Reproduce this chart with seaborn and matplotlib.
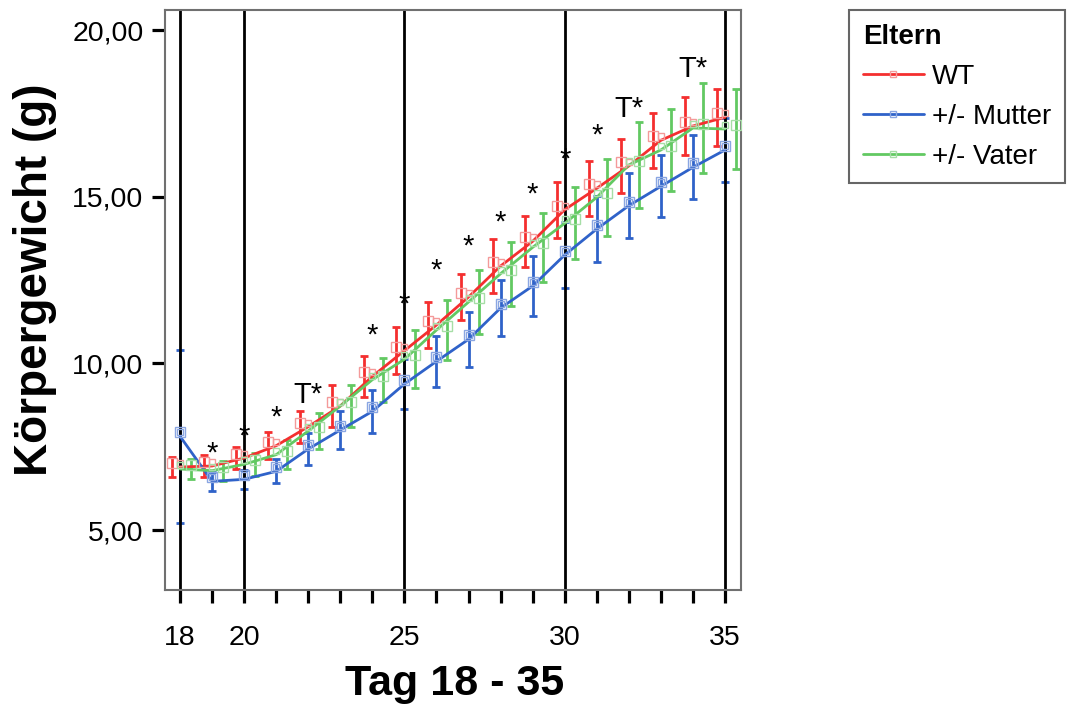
import numpy as np
import pandas as pd
import matplotlib
matplotlib.use("Agg")
import matplotlib.pyplot as plt
import matplotlib.transforms as mtransforms
from matplotlib.lines import Line2D
from matplotlib.ticker import FixedLocator, FuncFormatter
import seaborn as sns

# ---------------- data ----------------
days = list(range(18, 36))
groups = ["WT", "+/- Mutter", "+/- Vater"]

wt_mean = [6.89, 6.92, 7.16, 7.53, 8.10, 8.72, 9.61, 10.38, 11.15, 11.99,
           12.92, 13.66, 14.61, 15.25, 15.92, 16.69, 17.12, 17.38]
wt_err = [0.29, 0.33, 0.34, 0.40, 0.48, 0.62, 0.61, 0.70, 0.68, 0.69,
          0.80, 0.77, 0.84, 0.82, 0.82, 0.83, 0.88, 0.85]

mutter_mean = [7.81, 6.46, 6.52, 6.76, 7.43, 8.00, 8.56, 9.38, 10.06, 10.72,
               11.66, 12.32, 13.25, 14.03, 14.73, 15.31, 15.88, 16.40]
mutter_err = [2.59, 0.29, 0.29, 0.36, 0.48, 0.57, 0.64, 0.75, 0.76, 0.82,
              0.84, 0.90, 0.98, 0.98, 0.97, 0.93, 0.96, 0.95]

vater_mean = [6.83, 6.78, 6.97, 7.26, 7.97, 8.72, 9.51, 10.12, 11.00, 11.84,
              12.69, 13.48, 14.20, 14.98, 15.95, 16.40, 17.06, 17.03]
vater_err = [0.29, 0.30, 0.35, 0.44, 0.55, 0.62, 0.66, 0.87, 0.90, 0.96,
             0.96, 1.03, 1.08, 1.15, 1.28, 1.23, 1.36, 1.20]

sig_days = [19, 20, 21, 22, 24, 25, 26, 27, 28, 29, 30, 31, 32, 34]
sig_labels = ["*", "*", "*", "T*", "*", "*", "*", "*", "*", "*", "*", "*", "T*", "T*"]
sig_y = [7.05, 7.55, 8.13, 8.81, 10.60, 11.51, 12.53, 13.26, 13.98, 14.83,
         15.86, 16.58, 17.39, 18.59]

x_major_ticks = [18, 20, 25, 30, 35]
y_ticks = [5, 10, 15, 20]

# ---------------- styles ----------------
line_colors = {"WT": "#f42f2f", "+/- Mutter": "#2f62c9", "+/- Vater": "#62c962"}
marker_colors = {"WT": "#f49a9a", "+/- Mutter": "#8aa6e2", "+/- Vater": "#a6dea6"}
x_offset = {"WT": -0.25, "+/- Mutter": 0.0, "+/- Vater": 0.33}

means = {"WT": wt_mean, "+/- Mutter": mutter_mean, "+/- Vater": vater_mean}
errs = {"WT": wt_err, "+/- Mutter": mutter_err, "+/- Vater": vater_err}

df = pd.concat([pd.DataFrame({"Tag": days, "Gewicht": means[g], "Eltern": g}) for g in groups],
               ignore_index=True)

sns.set_theme(style="white")
plt.rcParams["font.family"] = ["Liberation Sans", "DejaVu Sans"]
for k in ["text.color", "axes.labelcolor", "xtick.color", "ytick.color"]:
    plt.rcParams[k] = "black"

fig = plt.figure(figsize=(10.71, 7.05), dpi=100)
fig.patch.set_facecolor("white")
ax = fig.add_axes([165 / 1071, 1 - 590 / 705, 576 / 1071, 580 / 705])

# lines through the means
sns.lineplot(data=df, x="Tag", y="Gewicht", hue="Eltern", hue_order=groups,
             palette=line_colors, lw=2, legend=False, ax=ax, zorder=3,
             estimator=None, errorbar=None)

marker_shift = ax.transData + mtransforms.ScaledTranslation(0, 4 / 100, fig.dpi_scale_trans)

for g in groups:
    xs = np.array(days) + x_offset[g]
    ax.errorbar(xs, means[g], yerr=errs[g], fmt="none", ecolor=line_colors[g],
                elinewidth=2, capsize=2.6, capthick=2, zorder=2)
    ax.plot(xs, means[g], ls="none", marker="s", ms=7, mfc="none",
            mec=marker_colors[g], mew=1, zorder=4, transform=marker_shift)
    ax.plot(days, means[g], ls="none", marker="s", ms=4.3, mfc="none",
            mec=marker_colors[g], mew=1, zorder=4, transform=marker_shift)

for xv in x_major_ticks:
    ax.axvline(xv, color="black", lw=2, zorder=2.5)

for d, lab, yv in zip(sig_days, sig_labels, sig_y):
    ax.text(d, yv, lab, ha="center", va="baseline", fontsize=21, color="black", zorder=5)

ax.set_xlim(17.53, 35.5)
ax.set_ylim(3.2, 20.6)

ax.xaxis.set_major_locator(FixedLocator(x_major_ticks))
ax.xaxis.set_minor_locator(FixedLocator([d for d in days if d not in x_major_ticks]))
ax.xaxis.set_major_formatter(FuncFormatter(lambda v, p: f"{int(v)}"))
ax.yaxis.set_major_locator(FixedLocator(y_ticks))
ax.yaxis.set_major_formatter(FuncFormatter(lambda v, p: f"{v:.2f}".replace(".", ",")))

ax.tick_params(axis="both", which="both", direction="out", length=9.5, width=2.3,
               color="black", bottom=True, left=True)
ax.tick_params(axis="x", which="major", pad=16, labelsize=20.5)
ax.tick_params(axis="y", which="major", pad=6, labelsize=20.5)
ax.grid(False)

for sp in ax.spines.values():
    sp.set_color("#707070")
    sp.set_linewidth(1.5)

ax.set_xlabel("Tag 18 - 35", fontsize=31, fontweight="bold", va="center")
ax.xaxis.set_label_coords(0.502, -0.162)
ax.set_ylabel("Körpergewicht (g)", fontsize=33, fontweight="bold", va="center")
ax.yaxis.set_label_coords(-0.2257, 0.5345)

handles = [Line2D([0], [0], color=line_colors[g], lw=2, marker="s", ms=4.3, mfc="none",
                  mec=marker_colors[g], mew=1) for g in groups]
leg = fig.legend(handles, groups, title="Eltern", loc="upper left",
                 bbox_to_anchor=(849 / 1071, 1 - 10 / 705), frameon=True, fancybox=False,
                 edgecolor="#404040", fontsize=20,
                 title_fontproperties={"weight": "bold", "size": 20},
                 alignment="left", handlelength=2.2, handletextpad=0.3,
                 labelspacing=0.5, borderpad=0.5, borderaxespad=0)
leg.get_frame().set_linewidth(1.5)

fig.savefig("out.png", dpi=100)
